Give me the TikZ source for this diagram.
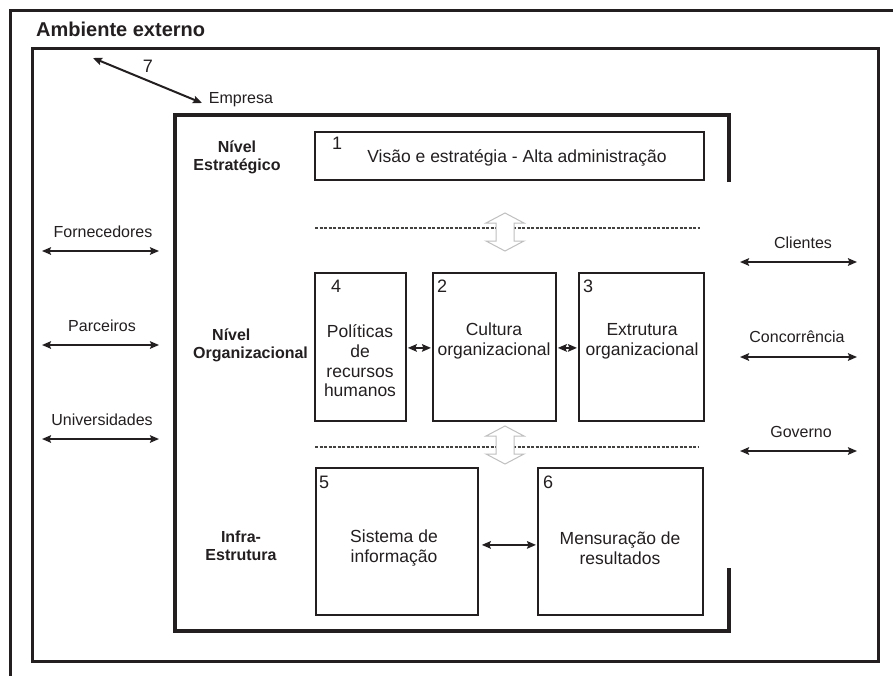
\documentclass[tikz,border=0pt]{standalone}
\usepackage{fontspec}
\setmainfont{Liberation Sans}
\usetikzlibrary{arrows.meta,calc}
\definecolor{ink}{HTML}{231F20}
\begin{document}
\begin{tikzpicture}[x=1pt,y=-1pt,
  frame/.style={draw=ink, line width=3pt},
  blk/.style={draw=ink, line width=1.8pt, inner sep=0pt, anchor=north west},
  lbl/.style={font=\fontsize{16}{19}\selectfont, text=ink, inner sep=0pt},
  txt/.style={font=\fontsize{17.5}{19.7}\selectfont, text=ink, align=center, inner sep=0pt},
  lvl/.style={font=\bfseries\fontsize{16}{18}\selectfont, text=ink, align=center, inner sep=0pt},
  num/.style={font=\fontsize{18}{20}\selectfont, text=ink, inner sep=0pt},
  link/.style={draw=ink, line width=2pt, {Stealth[length=9pt,width=7.5pt,inset=1.5pt]}-{Stealth[length=9pt,width=7.5pt,inset=1.5pt]}},
  level/.style={draw=ink!85, line width=1.2pt, dash pattern=on 3pt off 1.5pt},
  flow/.style={draw=black!25, fill=white, line width=1pt, line join=miter}
]
\useasboundingbox (0,0) rectangle (893,675);
\fill[white] (0,0) rectangle (893,675);

% outer border and the external-environment frame
\draw[frame] (10,680) -- (10,10) -- (900,10);
\draw[frame] (32,48) rectangle (878,661);
\node[font=\bfseries\fontsize{20}{24}\selectfont, text=ink, inner sep=0pt, anchor=west] (amb) at (36,29.5) {Ambiente externo};

% company frame (open on the right side)
\draw[ink, line width=4pt] (729,182) -- (729,115) -- (175,115) -- (175,631) -- (729,631) -- (729,568);
\node[lbl] (emp) at (241,100) {Empresa};
\coordinate (e7a) at (93,58);
\coordinate (e7b) at (202,103);
\draw[link] (e7a) -- (e7b);
\node[num] (n7) at (148,66) {7};

% level separators with two-way flow arrows
\draw[level] (315,228) -- (700,228);
\draw[level] (315,447) -- (699,447);
\coordinate (fa) at (505,232);
\coordinate (fb) at (505,445);
\foreach \c in {fa,fb}{
  \draw[flow] ($(\c)+(0,-19)$) -- ++(19,10) -- ++(-10,0) -- ++(0,18) -- ++(10,0)
    -- ++(-19,10) -- ++(-19,-10) -- ++(10,0) -- ++(0,-18) -- ++(-10,0) -- cycle;
}

% level labels
\node[lvl] (lv1) at (237,157) {Nível\\Estratégico};
\node[lvl, align=left, anchor=west] (lv2) at (193,345) {\hspace*{19pt}Nível\\Organizacional};
\node[lvl] (lv3) at (241,546) {Infra-\\Estrutura};

% blocks
\node[blk, minimum width=389pt, minimum height=48pt] (b1) at (314,131) {};
\node[blk, minimum width=91pt, minimum height=148pt] (b4) at (314,272) {};
\node[blk, minimum width=123pt, minimum height=148pt] (b2) at (432,272) {};
\node[blk, minimum width=125pt, minimum height=148pt] (b3) at (578,272) {};
\node[blk, minimum width=162pt, minimum height=147pt] (b5) at (315,467) {};
\node[blk, minimum width=165pt, minimum height=147pt] (b6) at (537,467) {};

\node[num] (k1) at (337,143) {1};
\node[num] (k4) at (336,286) {4};
\node[num] (k2) at (442,286) {2};
\node[num] (k3) at (588,286) {3};
\node[num] (k5) at (324,482) {5};
\node[num] (k6) at (548,482) {6};

\node[txt] (t1) at (517,158) {Visão e estratégia - Alta administração};
\node[txt] (t4) at (360,361) {Políticas\\de\\recursos\\humanos};
\node[txt] (t2) at (494,341) {Cultura\\organizacional};
\node[txt] (t3) at (642,341) {Extrutura\\organizacional};
\node[txt] (t5) at (394,548) {Sistema de\\informação};
\node[txt] (t6) at (620,548) {Mensuração de\\resultados};

% links between blocks
\draw[link, shorten <=1pt, shorten >=1pt] ($(b4.east)+(0,1)$) -- ($(b2.west)+(0,1)$);
\draw[link, shorten <=1pt, shorten >=1pt] ($(b2.east)+(0,1)$) -- ($(b3.west)+(0,1)$);
\draw[link, shorten <=3pt, shorten >=1pt] ($(b5.east)+(0,3.5)$) -- ($(b6.west)+(0,3.5)$);

% external actors, left
\coordinate (l1a) at (42,251);  \coordinate (l1b) at (159,251);
\coordinate (l2a) at (42,345);  \coordinate (l2b) at (159,345);
\coordinate (l3a) at (42,439);  \coordinate (l3b) at (159,439);
\draw[link] (l1a) -- (l1b);
\draw[link] (l2a) -- (l2b);
\draw[link] (l3a) -- (l3b);
\node[lbl] (forn) at (103,232) {Fornecedores};
\node[lbl] (parc) at (102,326) {Parceiros};
\node[lbl] (univ) at (102,420) {Universidades};

% external actors, right
\coordinate (r1a) at (740,262); \coordinate (r1b) at (857,262);
\coordinate (r2a) at (740,357); \coordinate (r2b) at (857,357);
\coordinate (r3a) at (740,451); \coordinate (r3b) at (857,451);
\draw[link] (r1a) -- (r1b);
\draw[link] (r2a) -- (r2b);
\draw[link] (r3a) -- (r3b);
\node[lbl] (cli) at (803,243) {Clientes};
\node[lbl] (conc) at (797,337) {Concorrência};
\node[lbl] (gov) at (801,432) {Governo};
\end{tikzpicture}
\end{document}
